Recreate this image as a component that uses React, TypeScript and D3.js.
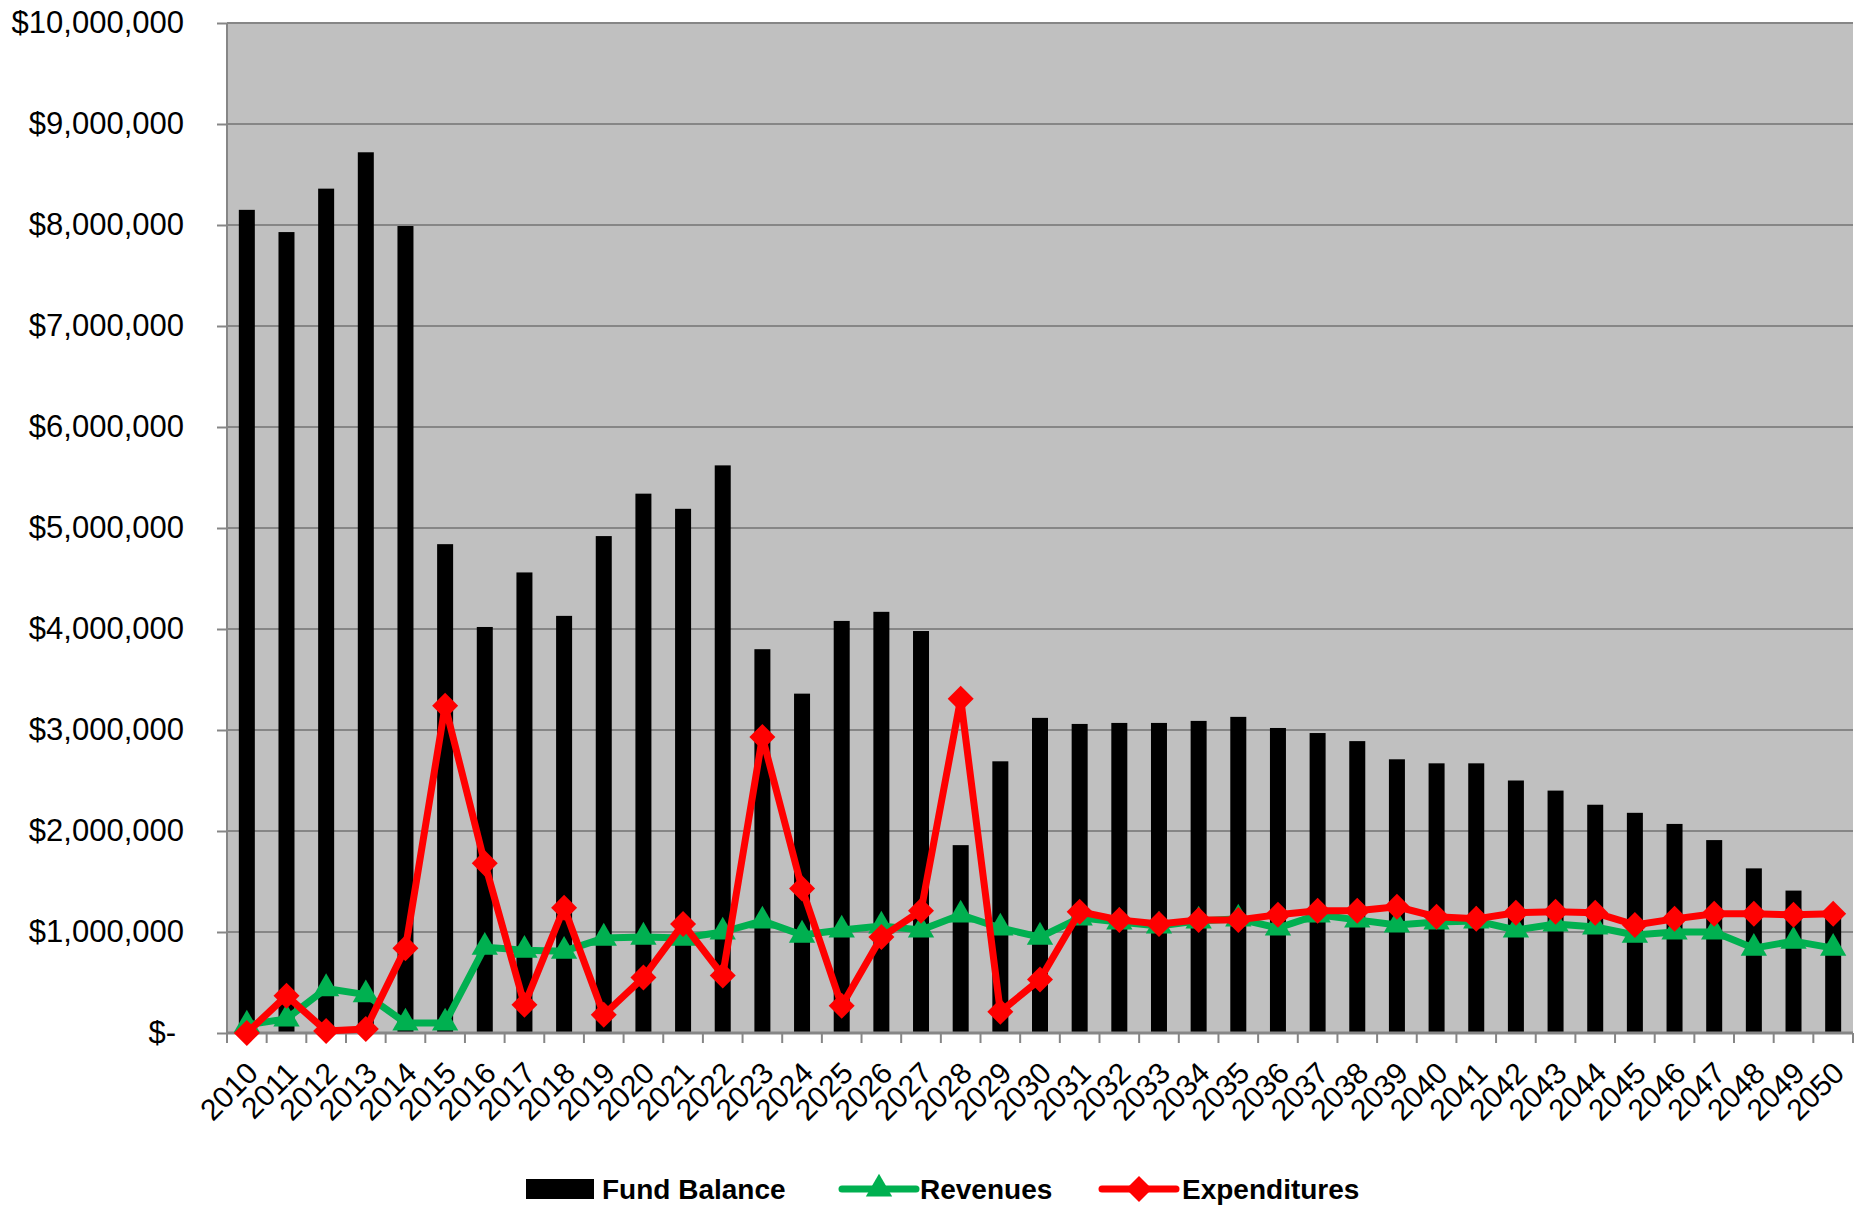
import * as d3 from "d3";
import { useEffect, useRef } from "react";

const years = d3.range(2010, 2051).map(String);

const fundBalance = [
  8.15, 7.93, 8.36, 8.72, 7.99, 4.84, 4.02, 4.56, 4.13, 4.92, 5.34, 5.19, 5.62,
  3.8, 3.36, 4.08, 4.17, 3.98, 1.86, 2.69, 3.12, 3.06, 3.07, 3.07, 3.09, 3.13,
  3.02, 2.97, 2.89, 2.71, 2.67, 2.67, 2.5, 2.4, 2.26, 2.18, 2.07, 1.91, 1.63,
  1.41, 1.17,
].map((v) => v * 1e6);

const revenues = [
  0.08, 0.14, 0.44, 0.38, 0.1, 0.1, 0.85, 0.82, 0.81, 0.94, 0.95, 0.94, 1.0,
  1.11, 0.97, 1.02, 1.06, 1.02, 1.17, 1.04, 0.95, 1.14, 1.1, 1.06, 1.11, 1.13,
  1.04, 1.17, 1.12, 1.07, 1.1, 1.11, 1.02, 1.08, 1.05, 0.97, 1.0, 1.0, 0.84,
  0.91, 0.84,
].map((v) => v * 1e6);

const expenditures = [
  0, 0.37, 0.02, 0.04, 0.84, 3.24, 1.68, 0.28, 1.24, 0.18, 0.55, 1.08, 0.57,
  2.93, 1.43, 0.27, 0.95, 1.21, 3.31, 0.21, 0.53, 1.2, 1.12, 1.08, 1.12, 1.12,
  1.17, 1.21, 1.21, 1.25, 1.15, 1.13, 1.19, 1.2, 1.19, 1.07, 1.13, 1.18, 1.18,
  1.17, 1.18,
].map((v) => v * 1e6);

const yTicks = d3.range(0, 10000001, 1000000);

const GREEN = "#00B050";
const RED = "#FF0000";
const GRID = "#868686";
const FONT = "'Liberation Sans', Arial, sans-serif";

export default function App() {
  const ref = useRef<SVGSVGElement>(null);

  useEffect(() => {
    const svg = d3.select(ref.current);
    svg.selectAll("*").remove();

    const width = 1869;
    const height = 1207;
    const left = 227;
    const right = 1853;
    const top = 23;
    const bottom = 1033;

    const x = d3.scaleBand().domain(years).range([left, right]);
    const y = d3.scaleLinear().domain([0, 10000000]).range([bottom, top]);
    const cx = (i: number) => (x(years[i]) as number) + x.bandwidth() / 2;

    svg.attr("width", width).attr("height", height);

    // plot background
    svg
      .append("rect")
      .attr("x", left)
      .attr("y", top)
      .attr("width", right - left)
      .attr("height", bottom - top)
      .attr("fill", "#C0C0C0");

    // y ticks and labels
    const yAxis = svg
      .append("g")
      .attr("transform", `translate(${left},0)`)
      .call(
        d3
          .axisLeft(y)
          .tickValues(yTicks)
          .tickSize(10)
          .tickPadding(33)
          .tickFormat((d: any) =>
            d === 0 ? "$-" : "$" + d3.format(",")(d as number),
          ),
      );
    yAxis.select(".domain").remove();
    yAxis.selectAll("line").attr("stroke", GRID).attr("stroke-width", 2);
    yAxis
      .selectAll("text")
      .attr("font-family", FONT)
      .attr("font-size", 31)
      .attr("fill", "#000");
    yAxis.select(".tick:first-of-type text").attr("dx", -8);

    // gridlines
    svg
      .append("g")
      .selectAll("line")
      .data(yTicks)
      .join("line")
      .attr("x1", left)
      .attr("x2", right)
      .attr("y1", (d) => y(d))
      .attr("y2", (d) => y(d))
      .attr("stroke", GRID)
      .attr("stroke-width", 2);

    svg
      .append("line")
      .attr("x1", left)
      .attr("x2", left)
      .attr("y1", top)
      .attr("y2", bottom)
      .attr("stroke", GRID)
      .attr("stroke-width", 2);

    // bars
    const barW = 16;
    svg
      .append("g")
      .selectAll("rect")
      .data(fundBalance)
      .join("rect")
      .attr("x", (_, i) => cx(i) - barW / 2)
      .attr("y", (d) => y(d))
      .attr("width", barW)
      .attr("height", (d) => bottom - y(d))
      .attr("fill", "#000");

    // x axis
    const boundaries = d3.range(years.length + 1).map((i) => left + i * x.step());
    svg
      .append("line")
      .attr("x1", left)
      .attr("x2", right)
      .attr("y1", bottom)
      .attr("y2", bottom)
      .attr("stroke", GRID)
      .attr("stroke-width", 3);
    svg
      .append("g")
      .selectAll("line")
      .data(boundaries)
      .join("line")
      .attr("x1", (d) => d)
      .attr("x2", (d) => d)
      .attr("y1", bottom)
      .attr("y2", bottom + 10)
      .attr("stroke", GRID)
      .attr("stroke-width", 2);

    svg
      .append("g")
      .selectAll("text")
      .data(years)
      .join("text")
      .attr("transform", (_, i) => `translate(${cx(i) + 13},${bottom + 42}) rotate(-45)`)
      .attr("text-anchor", "end")
      .attr("font-family", FONT)
      .attr("font-size", 30)
      .attr("fill", "#000")
      .text((d) => d);

    // lines
    const line = d3
      .line<number>()
      .x((_, i) => cx(i))
      .y((d) => y(d));

    const triangle = d3.symbol().type(d3.symbolTriangle).size(300);
    const diamond = "M0,-13L13,0L0,13L-13,0Z";

    svg
      .append("path")
      .attr("d", line(revenues))
      .attr("fill", "none")
      .attr("stroke", GREEN)
      .attr("stroke-width", 7)
      .attr("stroke-linejoin", "round");
    svg
      .append("g")
      .selectAll("path")
      .data(revenues)
      .join("path")
      .attr("transform", (d, i) => `translate(${cx(i)},${y(d)})`)
      .attr("d", triangle() as string)
      .attr("fill", GREEN);

    svg
      .append("path")
      .attr("d", line(expenditures))
      .attr("fill", "none")
      .attr("stroke", RED)
      .attr("stroke-width", 7)
      .attr("stroke-linejoin", "round");
    svg
      .append("g")
      .selectAll("path")
      .data(expenditures)
      .join("path")
      .attr("transform", (d, i) => `translate(${cx(i)},${y(d)})`)
      .attr("d", diamond)
      .attr("fill", RED);

    // legend
    const ly = 1189;
    const legend = svg.append("g");
    legend
      .append("rect")
      .attr("x", 526)
      .attr("y", ly - 10)
      .attr("width", 68)
      .attr("height", 20)
      .attr("fill", "#000");
    legend
      .append("line")
      .attr("x1", 842)
      .attr("x2", 916)
      .attr("y1", ly)
      .attr("y2", ly)
      .attr("stroke", GREEN)
      .attr("stroke-width", 7)
      .attr("stroke-linecap", "round");
    legend
      .append("path")
      .attr("transform", `translate(879,${ly})`)
      .attr("d", triangle() as string)
      .attr("fill", GREEN);
    legend
      .append("line")
      .attr("x1", 1102)
      .attr("x2", 1176)
      .attr("y1", ly)
      .attr("y2", ly)
      .attr("stroke", RED)
      .attr("stroke-width", 7)
      .attr("stroke-linecap", "round");
    legend
      .append("path")
      .attr("transform", `translate(1139,${ly})`)
      .attr("d", diamond)
      .attr("fill", RED);

    const labels: [string, number][] = [
      ["Fund Balance", 602],
      ["Revenues", 920],
      ["Expenditures", 1182],
    ];
    legend
      .selectAll("text")
      .data(labels)
      .join("text")
      .attr("x", (d) => d[1])
      .attr("y", ly)
      .attr("dy", "0.35em")
      .attr("font-family", FONT)
      .attr("font-weight", "bold")
      .attr("font-size", 28)
      .attr("fill", "#000")
      .text((d) => d[0]);
  }, []);

  return (
    <svg
      ref={ref}
      style={{ position: "absolute", left: 0, top: 0, background: "#fff" }}
    />
  );
}
